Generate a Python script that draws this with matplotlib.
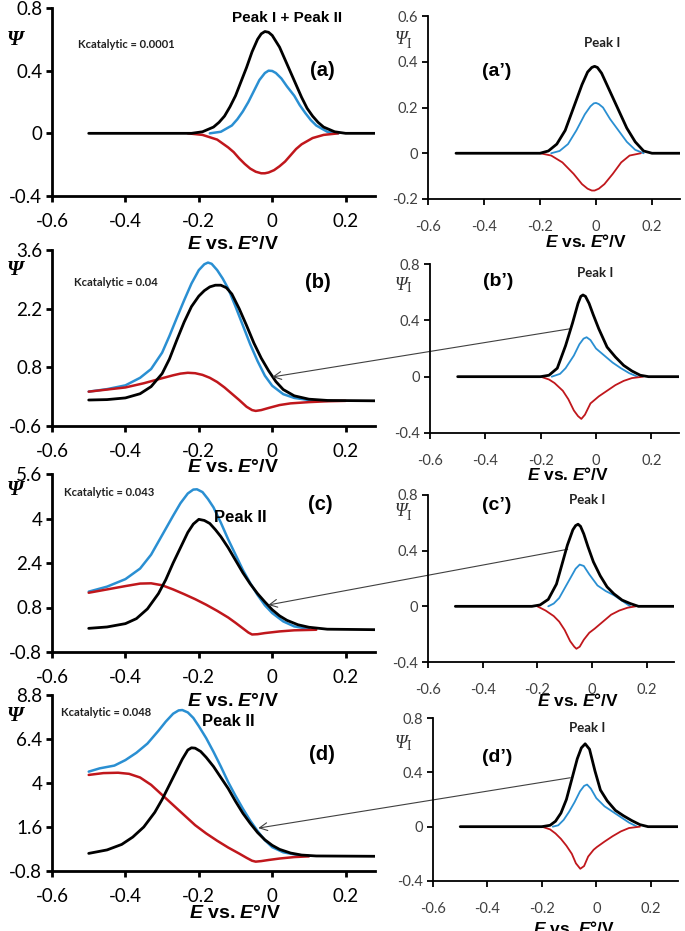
import matplotlib
matplotlib.use("Agg")
import matplotlib.pyplot as plt

plt.rcParams['mathtext.fontset'] = 'custom'
plt.rcParams['mathtext.it'] = 'Liberation Sans:bold:italic'
plt.rcParams['mathtext.rm'] = 'Liberation Sans:bold'
plt.rcParams['mathtext.bf'] = 'Liberation Sans:bold'

W, H = 685, 931

BLUE = '#2a8fd2'
RED = '#c0171c'
BLACK = '#000000'

# ----------------------------
# Panel (a): Kcatalytic = 0.0001
# ----------------------------
a_black_E = [-0.50, -0.22, -0.19, -0.16, -0.145, -0.13, -0.115, -0.10, -0.085, -0.07, -0.055, -0.04, -0.03, -0.02, -0.01, 0.0, 0.02, 0.035, 0.05, 0.065, 0.08, 0.095, 0.11, 0.125, 0.14, 0.17, 0.20, 0.30]
a_black_psi = [0, 0, 0.01, 0.04, 0.07, 0.11, 0.17, 0.24, 0.33, 0.42, 0.52, 0.60, 0.635, 0.65, 0.645, 0.625, 0.55, 0.47, 0.39, 0.31, 0.23, 0.16, 0.11, 0.07, 0.04, 0.01, 0, 0]
a_blue_E = [-0.17, -0.14, -0.11, -0.095, -0.08, -0.065, -0.05, -0.035, -0.02, -0.01, 0.0, 0.01, 0.025, 0.04, 0.06, 0.075, 0.09, 0.105, 0.12, 0.15, 0.18]
a_blue_psi = [0, 0.01, 0.05, 0.09, 0.14, 0.2, 0.27, 0.34, 0.385, 0.40, 0.398, 0.385, 0.35, 0.3, 0.24, 0.18, 0.13, 0.085, 0.05, 0.01, 0]
a_red_E = [-0.23, -0.19, -0.15, -0.12, -0.105, -0.09, -0.075, -0.06, -0.045, -0.03, -0.02, -0.01, 0.005, 0.02, 0.035, 0.05, 0.065, 0.08, 0.11, 0.14, 0.18]
a_red_psi = [0, -0.01, -0.04, -0.09, -0.12, -0.16, -0.195, -0.225, -0.245, -0.255, -0.255, -0.25, -0.235, -0.21, -0.18, -0.14, -0.1, -0.07, -0.03, -0.01, 0]

# Panel (a'): peak I only
ap_black_E = [-0.50, -0.20, -0.17, -0.14, -0.11, -0.08, -0.05, -0.03, -0.015, -0.005, 0.005, 0.02, 0.05, 0.08, 0.11, 0.14, 0.17, 0.20, 0.30]
ap_black_psi = [0, 0, 0.01, 0.04, 0.10, 0.20, 0.30, 0.355, 0.375, 0.38, 0.375, 0.35, 0.27, 0.19, 0.11, 0.05, 0.01, 0, 0]
ap_blue_E = [-0.16, -0.13, -0.10, -0.07, -0.04, -0.02, -0.008, 0.0, 0.01, 0.025, 0.05, 0.08, 0.11, 0.14, 0.17]
ap_blue_psi = [0, 0.01, 0.04, 0.10, 0.17, 0.205, 0.218, 0.22, 0.215, 0.2, 0.15, 0.10, 0.05, 0.015, 0]
ap_red_E = [-0.20, -0.16, -0.12, -0.08, -0.05, -0.03, -0.015, -0.005, 0.01, 0.03, 0.06, 0.09, 0.12, 0.16]
ap_red_psi = [0, -0.01, -0.04, -0.09, -0.135, -0.155, -0.163, -0.163, -0.155, -0.135, -0.09, -0.04, -0.01, 0]

# ----------------------------
# Panel (b): Kcatalytic = 0.04
# ----------------------------
b_black_E = [-0.50, -0.45, -0.40, -0.36, -0.33, -0.30, -0.28, -0.26, -0.24, -0.22, -0.20, -0.185, -0.17, -0.155, -0.14, -0.125, -0.11, -0.09, -0.07, -0.05, -0.03, -0.01, 0.01, 0.03, 0.06, 0.10, 0.15, 0.30]
b_black_psi = [0.02, 0.03, 0.07, 0.17, 0.34, 0.65, 1.0, 1.45, 1.88, 2.25, 2.5, 2.63, 2.72, 2.76, 2.76, 2.7, 2.55, 2.2, 1.8, 1.38, 1.02, 0.72, 0.46, 0.27, 0.12, 0.04, 0.01, 0.0]
b_blue_E = [-0.50, -0.45, -0.40, -0.36, -0.33, -0.30, -0.28, -0.26, -0.24, -0.22, -0.20, -0.185, -0.175, -0.165, -0.15, -0.135, -0.12, -0.10, -0.08, -0.06, -0.04, -0.02, 0.0, 0.03, 0.06, 0.10, 0.15]
b_blue_psi = [0.22, 0.28, 0.37, 0.55, 0.76, 1.15, 1.55, 1.98, 2.4, 2.8, 3.12, 3.26, 3.30, 3.27, 3.12, 2.92, 2.68, 2.25, 1.8, 1.35, 0.95, 0.6, 0.36, 0.16, 0.07, 0.02, 0.0]
b_red_E = [-0.50, -0.45, -0.40, -0.35, -0.30, -0.27, -0.25, -0.23, -0.21, -0.19, -0.17, -0.15, -0.13, -0.11, -0.09, -0.07, -0.055, -0.045, -0.03, -0.01, 0.02, 0.05, 0.10, 0.15, 0.20]
b_red_psi = [0.22, 0.27, 0.32, 0.42, 0.54, 0.61, 0.65, 0.67, 0.66, 0.62, 0.55, 0.45, 0.32, 0.17, 0.02, -0.14, -0.22, -0.24, -0.22, -0.17, -0.1, -0.06, -0.03, -0.01, 0.0]

bp_black_E = [-0.50, -0.20, -0.17, -0.14, -0.11, -0.085, -0.065, -0.055, -0.047, -0.038, -0.025, -0.01, 0.01, 0.04, 0.07, 0.10, 0.13, 0.16, 0.19, 0.30]
bp_black_psi = [0, 0, 0.01, 0.06, 0.22, 0.38, 0.52, 0.57, 0.58, 0.57, 0.52, 0.44, 0.34, 0.21, 0.14, 0.08, 0.04, 0.01, 0, 0]
bp_blue_E = [-0.16, -0.13, -0.11, -0.08, -0.06, -0.045, -0.034, -0.02, 0.0, 0.03, 0.06, 0.09, 0.12, 0.15]
bp_blue_psi = [0, 0.02, 0.06, 0.15, 0.23, 0.27, 0.28, 0.26, 0.2, 0.15, 0.1, 0.06, 0.025, 0]
bp_red_E = [-0.20, -0.17, -0.15, -0.12, -0.10, -0.08, -0.065, -0.053, -0.04, -0.02, 0.01, 0.04, 0.07, 0.10, 0.13, 0.17]
bp_red_psi = [0, -0.02, -0.045, -0.1, -0.16, -0.24, -0.28, -0.30, -0.27, -0.19, -0.14, -0.1, -0.06, -0.03, -0.01, 0]

# ----------------------------
# Panel (c): Kcatalytic = 0.043
# ----------------------------
c_black_E = [-0.50, -0.45, -0.40, -0.37, -0.34, -0.31, -0.29, -0.27, -0.25, -0.23, -0.215, -0.20, -0.185, -0.17, -0.155, -0.14, -0.12, -0.10, -0.08, -0.06, -0.04, -0.02, 0.0, 0.02, 0.04, 0.07, 0.10, 0.15, 0.30]
c_black_psi = [0.05, 0.1, 0.22, 0.4, 0.75, 1.3, 1.8, 2.4, 2.95, 3.5, 3.8, 3.97, 3.93, 3.82, 3.6, 3.35, 2.95, 2.5, 2.05, 1.65, 1.3, 1.0, 0.72, 0.5, 0.34, 0.18, 0.09, 0.02, 0.0]
c_blue_E = [-0.50, -0.45, -0.40, -0.36, -0.33, -0.30, -0.27, -0.25, -0.23, -0.215, -0.205, -0.19, -0.175, -0.16, -0.14, -0.12, -0.10, -0.08, -0.06, -0.04, -0.02, 0.0, 0.03, 0.06, 0.10]
c_blue_psi = [1.37, 1.55, 1.82, 2.2, 2.7, 3.4, 4.1, 4.55, 4.9, 5.04, 5.05, 4.95, 4.7, 4.4, 3.85, 3.25, 2.7, 2.15, 1.68, 1.25, 0.88, 0.6, 0.3, 0.12, 0.03]
c_red_E = [-0.50, -0.45, -0.40, -0.36, -0.33, -0.30, -0.27, -0.24, -0.21, -0.18, -0.15, -0.12, -0.10, -0.08, -0.065, -0.055, -0.04, -0.02, 0.02, 0.06, 0.12]
c_red_psi = [1.33, 1.45, 1.57, 1.66, 1.67, 1.6, 1.45, 1.28, 1.1, 0.9, 0.68, 0.44, 0.25, 0.05, -0.1, -0.17, -0.16, -0.12, -0.06, -0.02, 0.0]

cp_black_E = [-0.50, -0.22, -0.19, -0.16, -0.13, -0.11, -0.09, -0.07, -0.06, -0.051, -0.042, -0.03, -0.015, 0.005, 0.03, 0.055, 0.08, 0.11, 0.14, 0.17, 0.30]
cp_black_psi = [0, 0, 0.01, 0.05, 0.16, 0.3, 0.44, 0.55, 0.58, 0.59, 0.575, 0.52, 0.43, 0.32, 0.22, 0.14, 0.09, 0.045, 0.02, 0.0, 0]
cp_blue_E = [-0.16, -0.14, -0.12, -0.10, -0.08, -0.06, -0.045, -0.03, -0.01, 0.02, 0.05, 0.08, 0.11, 0.14]
cp_blue_psi = [0, 0.02, 0.06, 0.13, 0.2, 0.27, 0.30, 0.29, 0.23, 0.15, 0.11, 0.08, 0.04, 0]
cp_red_E = [-0.20, -0.17, -0.14, -0.12, -0.10, -0.08, -0.065, -0.057, -0.045, -0.03, -0.01, 0.01, 0.04, 0.07, 0.10, 0.13, 0.16]
cp_red_psi = [0, -0.03, -0.07, -0.11, -0.17, -0.25, -0.29, -0.305, -0.29, -0.24, -0.19, -0.16, -0.11, -0.06, -0.03, -0.01, 0]

# ----------------------------
# Panel (d): Kcatalytic = 0.048
# ----------------------------
d_black_E = [-0.50, -0.45, -0.41, -0.38, -0.35, -0.32, -0.30, -0.28, -0.26, -0.245, -0.23, -0.22, -0.21, -0.195, -0.18, -0.16, -0.14, -0.12, -0.10, -0.08, -0.06, -0.04, -0.02, 0.0, 0.02, 0.05, 0.08, 0.12, 0.30]
d_black_psi = [0.16, 0.35, 0.65, 1.05, 1.6, 2.4, 3.1, 3.9, 4.7, 5.3, 5.8, 5.92, 5.9, 5.72, 5.4, 4.9, 4.3, 3.7, 3.0, 2.35, 1.8, 1.3, 0.9, 0.6, 0.38, 0.18, 0.07, 0.02, 0.0]
d_blue_E = [-0.50, -0.47, -0.43, -0.40, -0.37, -0.34, -0.31, -0.29, -0.27, -0.255, -0.245, -0.23, -0.215, -0.20, -0.18, -0.16, -0.14, -0.12, -0.10, -0.08, -0.06, -0.04, -0.02, 0.0, 0.03, 0.07, 0.10]
d_blue_psi = [4.62, 4.8, 4.95, 5.25, 5.65, 6.15, 6.85, 7.35, 7.78, 7.96, 7.98, 7.85, 7.55, 7.1, 6.45, 5.7, 4.9, 4.05, 3.3, 2.6, 1.95, 1.38, 0.88, 0.5, 0.22, 0.07, 0.02]
d_red_E = [-0.50, -0.46, -0.42, -0.39, -0.36, -0.33, -0.30, -0.27, -0.24, -0.21, -0.18, -0.15, -0.12, -0.09, -0.07, -0.055, -0.045, -0.03, -0.01, 0.02, 0.06, 0.10]
d_red_psi = [4.44, 4.54, 4.56, 4.5, 4.3, 3.9, 3.35, 2.8, 2.25, 1.7, 1.25, 0.85, 0.48, 0.15, -0.08, -0.24, -0.29, -0.26, -0.2, -0.12, -0.04, 0.0]

dp_black_E = [-0.50, -0.20, -0.17, -0.15, -0.13, -0.11, -0.09, -0.07, -0.055, -0.041, -0.025, -0.005, 0.015, 0.04, 0.07, 0.10, 0.13, 0.16, 0.19, 0.30]
dp_black_psi = [0, 0, 0.01, 0.04, 0.1, 0.2, 0.35, 0.5, 0.58, 0.61, 0.57, 0.41, 0.27, 0.19, 0.12, 0.08, 0.045, 0.015, 0, 0]
dp_blue_E = [-0.16, -0.14, -0.12, -0.10, -0.08, -0.06, -0.045, -0.034, -0.02, 0.0, 0.03, 0.06, 0.09, 0.12, 0.15]
dp_blue_psi = [0, 0.01, 0.05, 0.11, 0.18, 0.26, 0.30, 0.31, 0.28, 0.21, 0.15, 0.11, 0.07, 0.03, 0]
dp_red_E = [-0.20, -0.17, -0.15, -0.13, -0.11, -0.09, -0.075, -0.059, -0.045, -0.03, -0.01, 0.002, 0.03, 0.06, 0.09, 0.12, 0.16]
dp_red_psi = [0, -0.02, -0.05, -0.09, -0.14, -0.2, -0.27, -0.31, -0.29, -0.22, -0.17, -0.15, -0.11, -0.07, -0.035, -0.01, 0]

# tick values
x_ticks = [-0.6, -0.4, -0.2, 0, 0.2]
x_ticklabels = ['-0.6', '-0.4', '-0.2', '0', '0.2']
a_yticks = [-0.4, 0, 0.4, 0.8]
b_yticks = [-0.6, 0.8, 2.2, 3.6]
c_yticks = [-0.8, 0.8, 2.4, 4, 5.6]
d_yticks = [-0.8, 1.6, 4, 6.4, 8.8]
ap_yticks = [-0.2, 0, 0.2, 0.4, 0.6]
p_yticks = [-0.4, 0, 0.4, 0.8]


def fig_box(left, top, right, bottom):
    return [left / W, 1 - bottom / H, (right - left) / W, (bottom - top) / H]


def style_axes(ax, yticks, big):
    for s in ['top', 'right']:
        ax.spines[s].set_visible(False)
    lw = 2.0 if big else 1.3
    for s in ['left', 'bottom']:
        ax.spines[s].set_linewidth(lw)
        ax.spines[s].set_color('black')
    ax.set_xticks(x_ticks)
    ax.set_xticklabels(x_ticklabels)
    ax.set_yticks(yticks)
    ax.set_yticklabels(['%g' % v for v in yticks])
    ax.set_ylim(yticks[0], yticks[-1])
    if big:
        ax.set_xlim(-0.6, 0.28)
        ax.tick_params(axis='both', direction='out', length=4, width=2,
                       labelsize=13.5, colors='black')
        ax.tick_params(axis='x', pad=8)
        ax.tick_params(axis='y', pad=3)
    else:
        ax.set_xlim(-0.6, 0.3)
        ax.tick_params(axis='both', direction='out', length=4, width=1.3,
                       labelsize=10.5, labelcolor='#404040')
        ax.tick_params(axis='x', pad=11)
        ax.tick_params(axis='y', pad=3)
    for lab in ax.get_xticklabels() + ax.get_yticklabels():
        lab.set_family('Lato')
    ax.patch.set_alpha(0)


def draw(ax, blue, red, black, big):
    lw_c = 1.8 if big else 1.3
    kw = dict(solid_joinstyle='round', solid_capstyle='round')
    ax.plot(blue[0], blue[1], color=BLUE, lw=lw_c, **kw)
    ax.plot(red[0], red[1], color=RED, lw=lw_c, **kw)
    ax.plot(black[0], black[1], color=BLACK, lw=2.0, **kw)


fig = plt.figure(figsize=(W / 100, H / 100), dpi=100)

ax_a = fig.add_axes(fig_box(52, 8, 375, 196))
ax_ap = fig.add_axes(fig_box(428, 16, 680, 199))
ax_b = fig.add_axes(fig_box(52, 250, 375, 426))
ax_bp = fig.add_axes(fig_box(430, 264, 679, 433))
ax_c = fig.add_axes(fig_box(52, 474, 375, 652))
ax_cp = fig.add_axes(fig_box(428, 495, 674, 662))
ax_d = fig.add_axes(fig_box(52, 695, 375, 871))
ax_dp = fig.add_axes(fig_box(433, 718, 678, 881))

draw(ax_a, (a_blue_E, a_blue_psi), (a_red_E, a_red_psi), (a_black_E, a_black_psi), True)
draw(ax_b, (b_blue_E, b_blue_psi), (b_red_E, b_red_psi), (b_black_E, b_black_psi), True)
draw(ax_c, (c_blue_E, c_blue_psi), (c_red_E, c_red_psi), (c_black_E, c_black_psi), True)
draw(ax_d, (d_blue_E, d_blue_psi), (d_red_E, d_red_psi), (d_black_E, d_black_psi), True)
draw(ax_ap, (ap_blue_E, ap_blue_psi), (ap_red_E, ap_red_psi), (ap_black_E, ap_black_psi), False)
draw(ax_bp, (bp_blue_E, bp_blue_psi), (bp_red_E, bp_red_psi), (bp_black_E, bp_black_psi), False)
draw(ax_cp, (cp_blue_E, cp_blue_psi), (cp_red_E, cp_red_psi), (cp_black_E, cp_black_psi), False)
draw(ax_dp, (dp_blue_E, dp_blue_psi), (dp_red_E, dp_red_psi), (dp_black_E, dp_black_psi), False)

style_axes(ax_a, a_yticks, True)
style_axes(ax_b, b_yticks, True)
style_axes(ax_c, c_yticks, True)
style_axes(ax_d, d_yticks, True)
style_axes(ax_ap, ap_yticks, False)
style_axes(ax_bp, p_yticks, False)
style_axes(ax_cp, p_yticks, False)
style_axes(ax_dp, p_yticks, False)


def ftext(px, py, s, **kw):
    kw.setdefault('ha', 'center')
    kw.setdefault('va', 'center')
    fig.text(px / W, 1 - py / H, s, **kw)


XLAB = r'$E$ vs. $E$°/V'
bold_sans = dict(family='Liberation Sans', weight='bold')

# x labels
for px, py in [(233, 245), (233, 468), (233, 702), (235, 913)]:
    ftext(px, py, XLAB, fontsize=14, **bold_sans)
for px, py in [(586, 242), (568, 474), (578, 701), (574, 928)]:
    ftext(px, py, XLAB, fontsize=12.5, **bold_sans)

# psi labels
for py in [40, 270, 490, 716]:
    ftext(15, py, 'Ψ', fontsize=15, family='Liberation Serif',
          style='italic', weight='bold')
for px, py in [(401, 40), (401, 285), (401, 512), (401, 743)]:
    ftext(px, py, 'Ψ', fontsize=13, family='Liberation Serif',
          style='italic', color='#303030')
    ftext(px + 8, py + 4, 'I', fontsize=10, family='Liberation Serif',
          color='#303030')

# kcatalytic labels
for px, py, s in [(126, 44, 'Kcatalytic = 0.0001'), (116, 282, 'Kcatalytic = 0.04'),
                  (109, 493, 'Kcatalytic = 0.043'), (106, 713, 'Kcatalytic = 0.048')]:
    ftext(px, py, s, fontsize=8, family='Lato', weight='bold', color='#202020')

# panel letters
for px, py, s in [(322, 71, '(a)'), (318, 283, '(b)'), (320, 505, '(c)'), (322, 755, '(d)')]:
    ftext(px, py, s, fontsize=14.5, **bold_sans)
for px, py, s in [(497, 72, '(a\u2019)'), (498, 282, '(b\u2019)'),
                  (497, 505, '(c\u2019)'), (497, 758, '(d\u2019)')]:
    ftext(px, py, s, fontsize=14, **bold_sans)

# peak labels
ftext(287, 18, 'Peak I + Peak II', fontsize=11, **bold_sans)
ftext(240, 517, 'Peak II', fontsize=12, **bold_sans)
ftext(228, 722, 'Peak II', fontsize=12, **bold_sans)
for px, py in [(602, 43), (595, 273), (587, 500), (587, 728)]:
    ftext(px, py, 'Peak I', fontsize=9.5, family='Lato', weight='bold', color='#202020')

# arrows from Peak I panels to Peak II panels
arrow_pairs = [
    (ax_b, (0.0, 0.57), ax_bp, (-0.094, 0.34)),
    (ax_c, (-0.011, 0.89), ax_cp, (-0.089, 0.41)),
    (ax_d, (-0.038, 1.54), ax_dp, (-0.096, 0.36)),
]
for ax_l, head, ax_r, tail in arrow_pairs:
    ax_l.annotate('', xy=head, xycoords='data', xytext=tail,
                  textcoords=ax_r.transData,
                  arrowprops=dict(arrowstyle='->', color='#404040', lw=0.8,
                                  shrinkA=0, shrinkB=0, mutation_scale=14),
                  annotation_clip=False)

fig.savefig('out.png', dpi=100)
